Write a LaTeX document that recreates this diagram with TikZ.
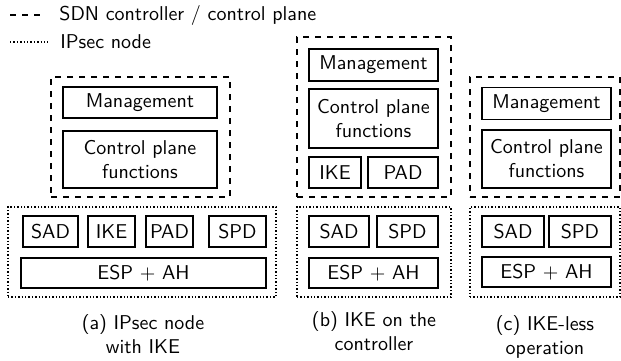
\documentclass[tikz,border=0pt]{standalone}
\begin{document}
\begin{tikzpicture}[x=0.5pt,y=-0.5pt,
  sz/.style 2 args={minimum width=#1*0.5pt,minimum height=#2*0.5pt},
  box/.style={draw,line width=0.7pt,inner sep=0pt,font=\sffamily,align=center},
  ctrl/.style={draw,dashed,line width=0.7pt,inner sep=0pt},
  ipsec/.style={draw,densely dotted,line width=0.7pt,inner sep=0pt},
  lbl/.style={font=\sffamily,anchor=west,inner sep=0pt},
  subcap/.style={font=\sffamily,align=center,inner sep=0pt}]

  \useasboundingbox (0,0) rectangle (621,360);

  % legend
  \coordinate (d1) at (10,15);
  \coordinate (d2) at (40,15);
  \coordinate (p1) at (10,42);
  \coordinate (p2) at (48,42);
  \draw[dashed,line width=0.7pt] (d1) -- (d2);
  \draw[densely dotted,line width=0.7pt] (p1) -- (p2);
  \node[lbl] (legctrl) at (59,15) {SDN controller / control plane};
  \node[lbl] (legnode) at (60,42) {IPsec node};

  % (a) IPsec node with IKE
  \node[ctrl,sz={179}{120}] (ctrlA) at (140.5,137) {};
  \node[box,sz={154}{31}] (mgmtA) at (140,102.5) {Management};
  \node[box,sz={154}{57}] (cpfA) at (140,159.5) {Control plane\\functions};
  \node[ipsec,sz={268}{90}] (nodeA) at (142,252) {};
  \node[box,sz={55}{31}] (sadA) at (50.5,231.5) {SAD};
  \node[box,sz={47}{31}] (ikeA) at (111.5,231.5) {IKE};
  \node[box,sz={47}{31}] (padA) at (169.5,231.5) {PAD};
  \node[box,sz={57}{31}] (spdA) at (237.5,231.5) {SPD};
  \node[box,sz={245}{30}] (espA) at (143.5,273) {ESP + AH};
  \node[subcap] (capA) at (143,334.5) {(a) IPsec node\\with IKE};

  % (b) IKE on the controller
  \node[ctrl,sz={154}{160}] (ctrlB) at (374,117) {};
  \node[box,sz={129}{32}] (mgmtB) at (373.5,65) {Management};
  \node[box,sz={129}{59}] (cpfB) at (373.5,118.5) {Control plane\\functions};
  \node[box,sz={52}{31}] (ikeB) at (335,172.5) {IKE};
  \node[box,sz={70}{31}] (padB) at (403,172.5) {PAD};
  \node[ipsec,sz={154}{90}] (nodeB) at (374,252) {};
  \node[box,sz={60}{31}] (sadB) at (339,231.5) {SAD};
  \node[box,sz={61}{31}] (spdB) at (407.5,231.5) {SPD};
  \node[box,sz={129}{30}] (espB) at (373.5,273) {ESP + AH};
  \node[subcap] (capB) at (374,331.5) {(b) IKE on the\\controller};

  % (c) IKE-less operation
  \node[ctrl,sz={150}{120}] (ctrlC) at (545,137) {};
  \node[box,sz={129}{32}] (mgmtC) at (546.5,103.5) {Management};
  \node[box,sz={129}{58}] (cpfC) at (546.5,159) {Control plane\\functions};
  \node[ipsec,sz={150}{90}] (nodeC) at (545,252) {};
  \node[box,sz={62}{31}] (sadC) at (513,231.5) {SAD};
  \node[box,sz={62}{31}] (spdC) at (580,231.5) {SPD};
  \node[box,sz={129}{30}] (espC) at (546.5,272) {ESP + AH};
  \node[subcap] (capC) at (545,336.5) {(c) IKE-less\\operation};
\end{tikzpicture}
\end{document}
